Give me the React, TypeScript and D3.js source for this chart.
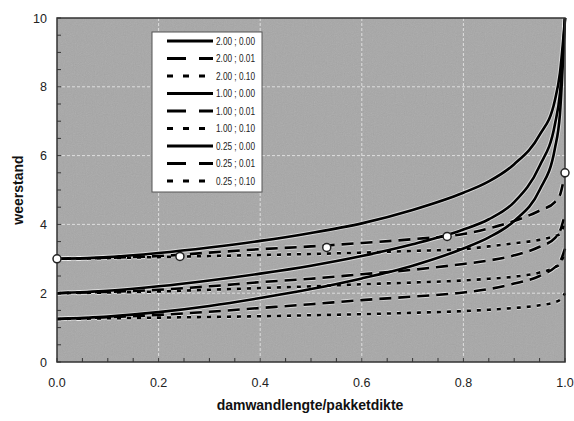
import React from "react";
import * as d3 from "d3";

const U = [0, 0.1, 0.2, 0.3, 0.4, 0.5, 0.6, 0.7, 0.8, 0.85, 0.9, 0.95, 0.98, 0.99, 1.0];

const a0 = [3.0, 3.05, 3.17, 3.33, 3.52, 3.75, 4.03, 4.42, 4.92, 5.25, 5.75, 6.6, 7.6, 8.4, 10.0];
const a1 = [3.0, 3.03, 3.08, 3.18, 3.28, 3.36, 3.46, 3.57, 3.72, 3.88, 4.1, 4.4, 4.65, 4.85, 5.5];
const a2 = [3.0, 3.02, 3.05, 3.08, 3.11, 3.14, 3.18, 3.23, 3.28, 3.36, 3.45, 3.55, 3.66, 3.72, 4.1];
const b0 = [2.0, 2.07, 2.2, 2.37, 2.57, 2.8, 3.08, 3.42, 3.85, 4.15, 4.65, 5.7, 6.9, 7.8, 10.0];
const b1 = [2.0, 2.04, 2.1, 2.2, 2.32, 2.42, 2.55, 2.68, 2.85, 2.95, 3.1, 3.35, 3.6, 3.8, 4.3];
const b2 = [2.0, 2.02, 2.05, 2.1, 2.15, 2.2, 2.26, 2.31, 2.37, 2.42, 2.48, 2.6, 2.75, 2.85, 3.2];
const c0 = [1.25, 1.32, 1.45, 1.63, 1.86, 2.12, 2.43, 2.8, 3.3, 3.62, 4.1, 5.0, 6.2, 7.2, 10.0];
const c1 = [1.25, 1.3, 1.37, 1.46, 1.57, 1.68, 1.8, 1.9, 2.02, 2.12, 2.28, 2.5, 2.75, 2.9, 3.3];
const c2 = [1.25, 1.27, 1.29, 1.31, 1.33, 1.36, 1.39, 1.43, 1.48, 1.52, 1.57, 1.65, 1.74, 1.8, 2.0];

const seriesLabels = [
  "2.00 ; 0.00", "2.00 ; 0.01", "2.00 ; 0.10",
  "1.00 ; 0.00", "1.00 ; 0.01", "1.00 ; 0.10",
  "0.25 ; 0.00", "0.25 ; 0.01", "0.25 ; 0.10",
];
const seriesValues = [a0, a1, a2, b0, b1, b2, c0, c1, c2];
const seriesStyle = ["solid", "dash", "dot", "solid", "dash", "dot", "solid", "dash", "dot"];

const markerX = [0, 0.242, 0.531, 0.768, 1.0];
const markerY = [3.0, 3.07, 3.33, 3.65, 5.5];

const xTicks = [0, 0.2, 0.4, 0.6, 0.8, 1.0];
const yTicks = [0, 2, 4, 6, 8, 10];

const W = 574, H = 421;
const L = 57, R = 565, T = 18, B = 362;

export default function App() {
  const x = d3.scaleLinear().domain([0, 1]).range([L, R]);
  const y = d3.scaleLinear().domain([0, 10]).range([B, T]);
  const line = d3
    .line<number>()
    .x((_, i) => x(U[i]))
    .y((d) => y(d))
    .curve(d3.curveMonotoneX);

  const dashPlot = (s: string) => (s === "dash" ? "12,7" : s === "dot" ? "4,6" : undefined);
  const dashLeg = (s: string) => (s === "dash" ? "19,13" : s === "dot" ? "6,10" : undefined);

  const minorX = d3.range(0, 1.0001, 0.05);
  const minorY = d3.range(0, 10.0001, 0.5);

  const legX = 152, legY = 32, legW = 110, legH = 160;

  return (
    <svg width={W} height={H} style={{ position: "absolute", left: 0, top: 0, background: "#fff" }}
      fontFamily="'Liberation Sans', Arial, sans-serif">
      <defs>
        <filter id="noise" x="0" y="0" width="100%" height="100%">
          <feTurbulence type="fractalNoise" baseFrequency="0.9" numOctaves="2" seed="3" />
          <feColorMatrix type="saturate" values="0" />
          <feComponentTransfer>
            <feFuncA type="linear" slope="0.18" />
          </feComponentTransfer>
        </filter>
        <clipPath id="plotclip">
          <rect x={L} y={T - 2} width={R - L + 3} height={B - T + 2} />
        </clipPath>
      </defs>
      <rect x={L} y={T} width={R - L} height={B - T} fill="#a7a7a7" />
      <rect x={L} y={T} width={R - L} height={B - T} filter="url(#noise)" />
      {xTicks.slice(1, -1).map((t) => (
        <line key={"gx" + t} x1={x(t)} x2={x(t)} y1={T} y2={B} stroke="#dedede" strokeWidth={1} strokeDasharray="3,2" />
      ))}
      {yTicks.slice(1, -1).map((t) => (
        <line key={"gy" + t} x1={L} x2={R} y1={y(t)} y2={y(t)} stroke="#dedede" strokeWidth={1} strokeDasharray="3,2" />
      ))}
      {minorX.map((t, i) => (
        <line key={"mx" + i} x1={x(t)} x2={x(t)} y1={B} y2={B - 4} stroke="#333" strokeWidth={1} />
      ))}
      {minorY.map((t, i) => (
        <line key={"my" + i} x1={L} x2={L + 4} y1={y(t)} y2={y(t)} stroke="#333" strokeWidth={1} />
      ))}
      <g clipPath="url(#plotclip)">
        {seriesValues.map((vals, i) => (
          <path key={"h" + i} d={line(vals) || ""} fill="none" stroke="#fff" strokeOpacity={0.55}
            strokeWidth={4.5} strokeDasharray={dashPlot(seriesStyle[i])} />
        ))}
        {seriesValues.map((vals, i) => (
          <path key={"s" + i} d={line(vals) || ""} fill="none" stroke="#000"
            strokeWidth={2.6} strokeDasharray={dashPlot(seriesStyle[i])} />
        ))}
      </g>
      <rect x={L} y={T} width={R - L} height={B - T} fill="none" stroke="#333" strokeWidth={1.5} />
      {markerX.map((mx, i) => (
        <circle key={"m" + i} cx={x(mx)} cy={y(markerY[i])} r={4} fill="#fff" stroke="#222" strokeWidth={1.5} />
      ))}
      <rect x={legX} y={legY} width={legW} height={legH} fill="#fff" stroke="#555" strokeWidth={1} />
      {seriesLabels.map((lab, i) => {
        const yy = legY + 9 + i * 17.5;
        return (
          <g key={"l" + i}>
            <line x1={legX + 15} x2={legX + 61} y1={yy} y2={yy} stroke="#000" strokeWidth={2.8}
              strokeDasharray={dashLeg(seriesStyle[i])} />
            <text x={legX + 64} y={yy + 3.8} fontSize={10.5} fill="#222" textLength={39}
              lengthAdjust="spacingAndGlyphs">{lab}</text>
          </g>
        );
      })}
      {yTicks.map((t) => (
        <text key={"yt" + t} x={L - 10} y={y(t) + 4.5} fontSize={12.5} textAnchor="end" fill="#222">{t}</text>
      ))}
      {xTicks.map((t) => (
        <text key={"xt" + t} x={x(t)} y={387} fontSize={12.5} textAnchor="middle" fill="#222">{t.toFixed(1)}</text>
      ))}
      <text x={310} y={410} fontSize={14} fontWeight="bold" textAnchor="middle" fill="#111">damwandlengte/pakketdikte</text>
      <text transform={`translate(23,${(T + B) / 2}) rotate(-90)`} fontSize={14} fontWeight="bold"
        textAnchor="middle" fill="#111">weerstand</text>
    </svg>
  );
}
